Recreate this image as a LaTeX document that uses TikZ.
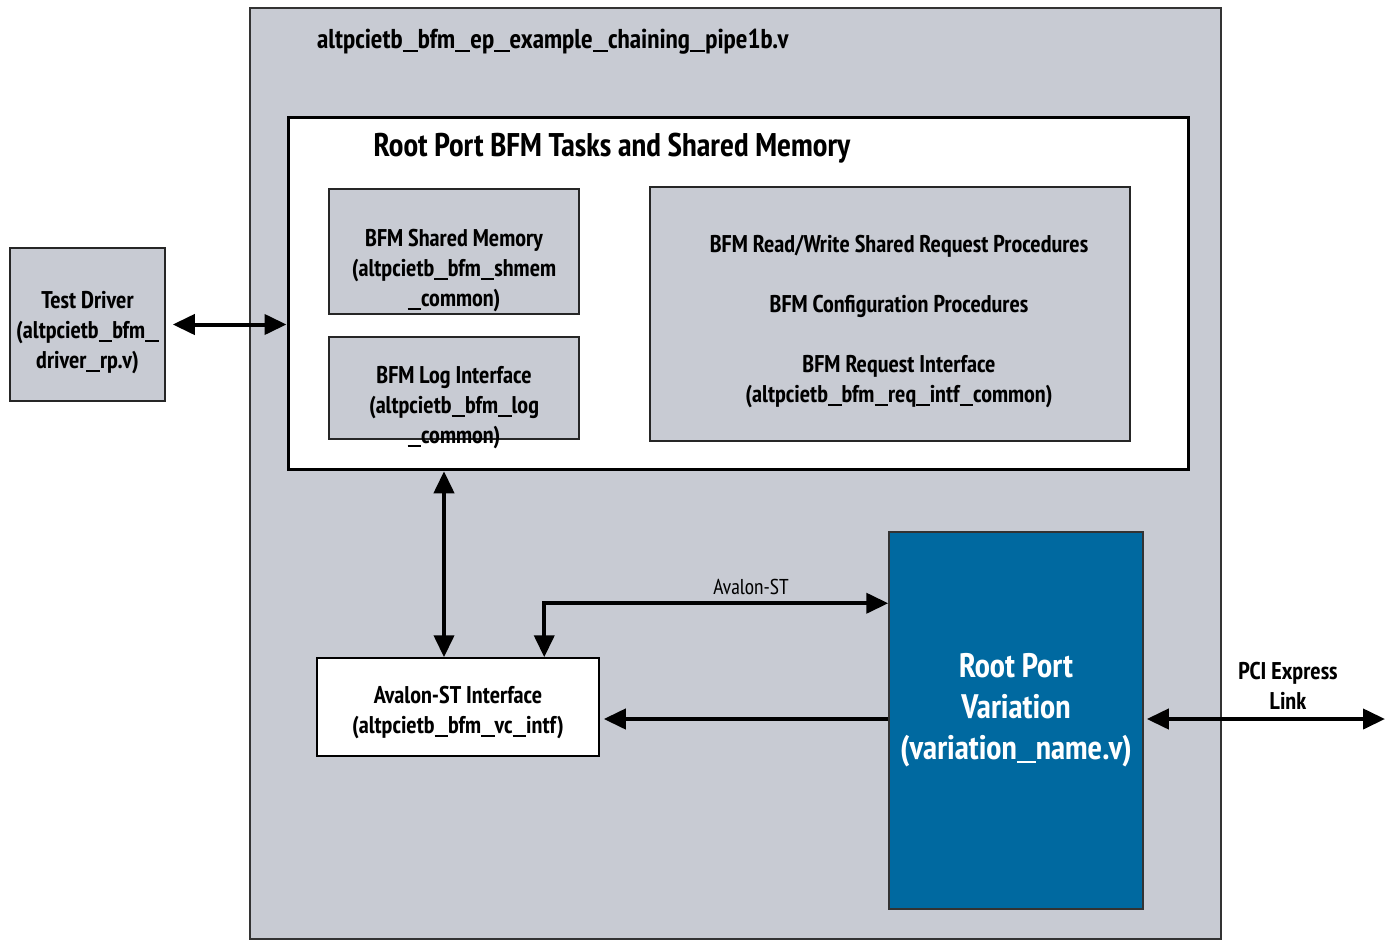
\documentclass[tikz,border=0pt]{standalone}
\usepackage{fontspec}
\setmainfont{PT Sans Narrow}
\usetikzlibrary{arrows.meta, positioning, calc}

\definecolor{bggray}{HTML}{C8CBD3}
\definecolor{portblue}{HTML}{0069A0}
\newcommand{\us}{\rule[-0.12em]{0.56em}{0.075em}}

\begin{document}
\begin{tikzpicture}[
    x=1pt, y=-1pt,
    every node/.style={font=\bfseries\fontsize{24.2}{30}\selectfont, align=center, inner sep=0pt},
    outer/.style={rectangle, draw=black!80, line width=2pt, fill=bggray},
    module/.style={rectangle, draw=black!85, line width=1.5pt, fill=bggray},
    wbox/.style={rectangle, draw, line width=1.5pt, fill=white},
    link/.style={draw, line width=4pt, -{Triangle[length=22pt, width=20pt]}},
    dlink/.style={draw, line width=4pt, {Triangle[length=22pt, width=20pt]}-{Triangle[length=22pt, width=20pt]}}
]
    \useasboundingbox (0,0) rectangle (1392,940);

    % Outer testbench
    \node [outer, minimum width=971pt, minimum height=931pt] (tb) at (735.5,473.5) {};
    \node [anchor=west, font=\bfseries\fontsize{27.3}{30}\selectfont] (tbname) at (317,42) {altpcietb\us bfm\us ep\us example\us chaining\us pipe1b.v};

    % Root port tasks
    \node [wbox, line width=3pt, minimum width=900pt, minimum height=352pt] (rptasks) at (738,293) {};
    \node [font=\bfseries\fontsize{32.8}{36}\selectfont] (rptitle) at (612,148) {Root Port BFM Tasks and Shared Memory};

    \node [module, minimum width=250pt, minimum height=125pt] (shmem) at (454,251.5) {};
    \node (shmemtext) at (454,271) {BFM Shared Memory\\(altpcietb\us bfm\us shmem\\\us common)};
    \node [module, minimum width=250pt, minimum height=102pt] (logif) at (454,388) {};
    \node (logtext) at (454,408) {BFM Log Interface\\(altpcietb\us bfm\us log\\\us common)};
    \node [module, minimum width=480pt, minimum height=254pt] (procs) at (890,314) {};
    \node (procstext) at (899,322)
        {BFM Read/Write Shared Request Procedures\\[30pt]BFM Configuration Procedures\\[30pt]BFM Request Interface\\(altpcietb\us bfm\us req\us intf\us common)};

    % Test driver
    \node [module, minimum width=155pt, minimum height=153pt] (tdrv) at (87.5,324.5) {};
    \node (tdrvtext) at (87.5,333) {Test Driver\\(altpcietb\us bfm\us\\driver\us rp.v)};

    % Avalon-ST interface
    \node [wbox, minimum width=282pt, minimum height=98pt] (avst) at (458,707) {};
    \node (avsttext) at (458,713) {Avalon-ST Interface\\(altpcietb\us bfm\us vc\us intf)};

    % Root port variation
    \node [rectangle, draw=black!80, line width=1.5pt, fill=portblue, minimum width=254pt, minimum height=377pt] (rpvar) at (1016,720.5) {};
    \node [text=white, font=\bfseries\fontsize{34}{41}\selectfont] (rpvartext) at (1016,710)
        {Root Port\\Variation\\(variation\us name.v)};

    \coordinate (pcie) at (1385,719);
    \node (pcielabel) at (1288,686) {PCI Express\\Link};

    % Edges
    \path [dlink] ([xshift=7pt]tdrv.east) -- (tdrv.east -| rptasks.west);
    \path [dlink] ($(avst.north)+(-14,-186)$) -- ($(avst.north)+(-14,0)$);
    \path [dlink] ($(rpvar.north west)+(0,72)$) -| ($(avst.north west)+(228,0)$);
    \node [font=\fontsize{21.5}{24}\selectfont] (avlabel) at (751,587) {Avalon-ST};
    \path [link] (rpvar.west |- pcie) -- ([xshift=4pt]avst.east |- pcie);
    \path [dlink] ([xshift=3pt]rpvar.east |- pcie) -- (pcie);
\end{tikzpicture}
\end{document}
